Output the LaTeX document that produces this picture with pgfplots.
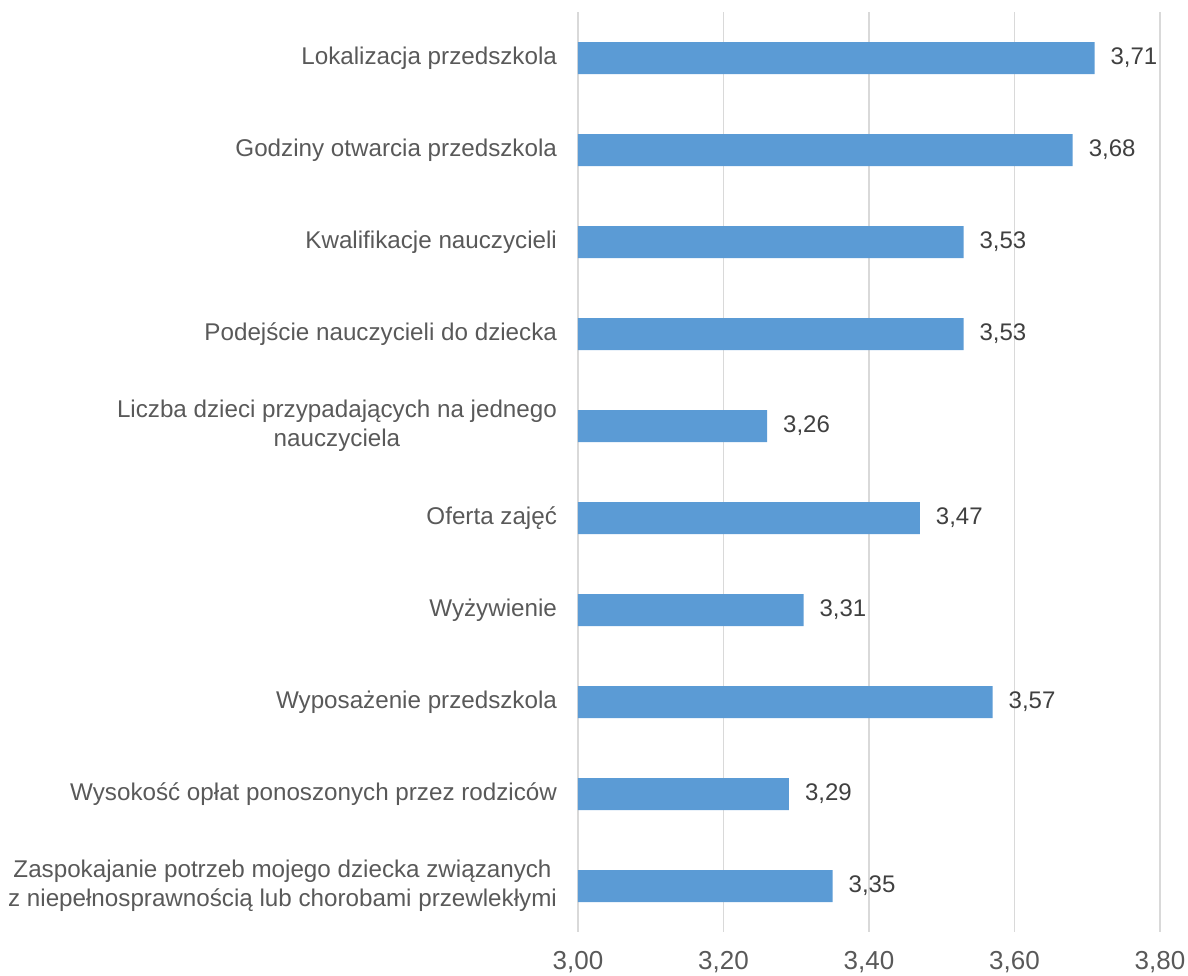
\documentclass[border=0pt]{standalone}
\usepackage{fontspec}
\setmainfont{Liberation Sans}
\usepackage{pgfplots}
\pgfplotsset{compat=1.18}
\definecolor{barblue}{HTML}{5B9BD5}
\definecolor{lblgray}{HTML}{595959}
\definecolor{valgray}{HTML}{404040}
\definecolor{gridgray}{HTML}{D9D9D9}
\begin{document}
\begin{tikzpicture}
\useasboundingbox (-289pt,-21.5pt) rectangle (305pt,466pt);
\begin{axis}[
  scale only axis,
  width=291pt, height=460pt,
  xmin=3, xmax=3.8,
  ymin=-0.5, ymax=9.5,
  y dir=reverse,
  xbar, bar width=16pt,
  axis line style={draw=none},
  xtick={3,3.2,3.4,3.6,3.8},
  xmajorgrids,
  grid style={gridgray, line width=0.9pt},
  major tick length=0pt,
  ytick={0,...,9},
  yticklabels={
    {Lokalizacja przedszkola},
    {Godziny otwarcia przedszkola},
    {Kwalifikacje nauczycieli},
    {Podejście nauczycieli do dziecka},
    {Liczba dzieci przypadających na jednego\\nauczyciela},
    {Oferta zajęć},
    {Wyżywienie},
    {Wyposażenie przedszkola},
    {Wysokość opłat ponoszonych przez rodziców},
    {Zaspokajanie potrzeb mojego dziecka związanych\\z niepełnosprawnością lub chorobami przewlekłymi}
  },
  yticklabel style={font=\fontsize{12.1}{14.5}\selectfont, text=lblgray, align=center, xshift=-7pt},
  xticklabel style={font=\fontsize{13}{15}\selectfont, text=lblgray, yshift=-6pt},
  /pgf/number format/assume math mode=true,
  xticklabel={\pgfmathprintnumber[fixed,fixed zerofill,precision=2,use comma]{\tick}},
  nodes near coords={\pgfmathprintnumber[fixed,fixed zerofill,precision=2,use comma]{\pgfplotspointmeta}},
  nodes near coords style={font=\fontsize{12}{14}\selectfont, text=valgray, anchor=west, xshift=4.5pt},
  point meta=x,
  clip=false,
]
\addplot[fill=barblue, draw=none] coordinates {
 (3.71,0) (3.68,1) (3.53,2) (3.53,3) (3.26,4) (3.47,5) (3.31,6) (3.57,7) (3.29,8) (3.35,9)
};
\end{axis}
\end{tikzpicture}
\end{document}
